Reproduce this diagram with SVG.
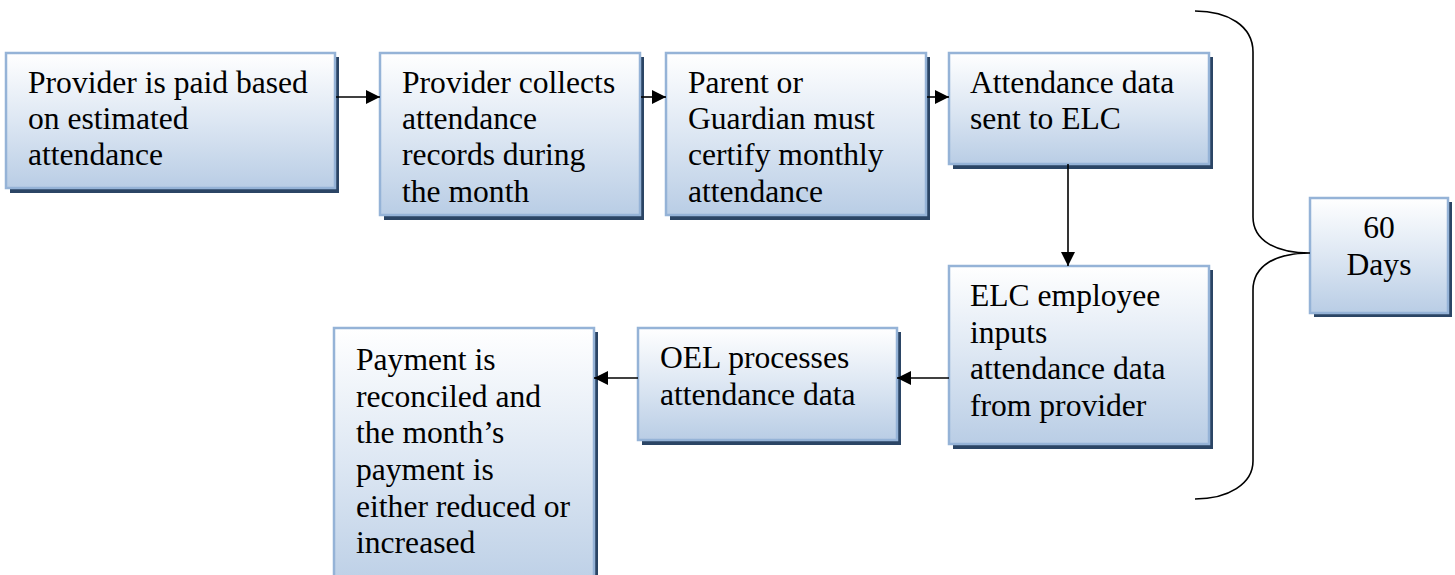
<svg xmlns="http://www.w3.org/2000/svg" width="1455" height="575" viewBox="0 0 1455 575">
<style>
.box{fill:url(#g);stroke:#95B3D7;stroke-width:2.5}
.sh{fill:#2B4565}
.c{stroke:#000;stroke-width:1.6;fill:none}
</style>
<linearGradient id="g" x1="0" y1="0" x2="0" y2="1">
<stop offset="0" stop-color="#FFFFFF"/>
<stop offset="0.5" stop-color="#DDE7F3"/>
<stop offset="1" stop-color="#B9CDE5"/>
</linearGradient>
<marker id="a" markerUnits="userSpaceOnUse" markerWidth="15" markerHeight="15" refX="14" refY="7" orient="auto">
<path d="M0,0 L14,7 L0,14 z" fill="#000"/>
</marker>
<rect width="1455" height="575" fill="#fff"/>
<g id="n1">
<rect class="sh" x="10" y="57" width="329" height="136"/>
<rect class="box" x="6" y="53" width="329" height="135"/>
<text x="28" y="93" style="font-family:'Liberation Serif',serif;font-size:31.6px">Provider is paid based</text>
<text x="28" y="129" style="font-family:'Liberation Serif',serif;font-size:31.6px">on estimated</text>
<text x="28" y="165" style="font-family:'Liberation Serif',serif;font-size:31.6px">attendance</text>
</g>
<g id="n2">
<rect class="sh" x="384" y="57" width="260" height="163"/>
<rect class="box" x="380" y="53" width="260" height="162"/>
<text x="402" y="93" style="font-family:'Liberation Serif',serif;font-size:31.6px">Provider collects</text>
<text x="402" y="129" style="font-family:'Liberation Serif',serif;font-size:31.6px">attendance</text>
<text x="402" y="165" style="font-family:'Liberation Serif',serif;font-size:31.6px">records during</text>
<text x="402" y="202" style="font-family:'Liberation Serif',serif;font-size:31.6px">the month</text>
</g>
<g id="n3">
<rect class="sh" x="670" y="57" width="260" height="163"/>
<rect class="box" x="666" y="53" width="260" height="162"/>
<text x="688" y="93" style="font-family:'Liberation Serif',serif;font-size:31.6px">Parent or</text>
<text x="688" y="129" style="font-family:'Liberation Serif',serif;font-size:31.6px">Guardian must</text>
<text x="688" y="165" style="font-family:'Liberation Serif',serif;font-size:31.6px">certify monthly</text>
<text x="688" y="202" style="font-family:'Liberation Serif',serif;font-size:31.6px">attendance</text>
</g>
<g id="n4">
<rect class="sh" x="953" y="57" width="260" height="112"/>
<rect class="box" x="949" y="53" width="260" height="111"/>
<text x="970" y="93" style="font-family:'Liberation Serif',serif;font-size:31.6px">Attendance data</text>
<text x="970" y="129" style="font-family:'Liberation Serif',serif;font-size:31.6px">sent to ELC</text>
</g>
<g id="n5">
<rect class="sh" x="953" y="270" width="260" height="179"/>
<rect class="box" x="949" y="266" width="260" height="178"/>
<text x="970" y="306" style="font-family:'Liberation Serif',serif;font-size:31.6px">ELC employee</text>
<text x="970" y="343" style="font-family:'Liberation Serif',serif;font-size:31.6px">inputs</text>
<text x="970" y="379" style="font-family:'Liberation Serif',serif;font-size:31.6px">attendance data</text>
<text x="970" y="416" style="font-family:'Liberation Serif',serif;font-size:31.6px">from provider</text>
</g>
<g id="n6">
<rect class="sh" x="642" y="332" width="259" height="113"/>
<rect class="box" x="638" y="328" width="259" height="112"/>
<text x="660" y="368" style="font-family:'Liberation Serif',serif;font-size:31.6px">OEL processes</text>
<text x="660" y="405" style="font-family:'Liberation Serif',serif;font-size:31.6px">attendance data</text>
</g>
<g id="n7">
<rect class="sh" x="338" y="332" width="260" height="270"/>
<rect class="box" x="334" y="328" width="260" height="270"/>
<text x="356" y="370" style="font-family:'Liberation Serif',serif;font-size:31.6px">Payment is</text>
<text x="356" y="407" style="font-family:'Liberation Serif',serif;font-size:31.6px">reconciled and</text>
<text x="356" y="443" style="font-family:'Liberation Serif',serif;font-size:31.6px">the month’s</text>
<text x="356" y="480" style="font-family:'Liberation Serif',serif;font-size:31.6px">payment is</text>
<text x="356" y="517" style="font-family:'Liberation Serif',serif;font-size:31.6px">either reduced or</text>
<text x="356" y="553" style="font-family:'Liberation Serif',serif;font-size:31.6px">increased</text>
</g>
<g id="n8">
<rect class="sh" x="1314" y="202" width="138" height="115"/>
<rect class="box" x="1310" y="198" width="138" height="115"/>
<text x="1379" y="238" text-anchor="middle" style="font-family:'Liberation Serif',serif;font-size:31.6px">60</text>
<text x="1379" y="275" text-anchor="middle" style="font-family:'Liberation Serif',serif;font-size:31.6px">Days</text>
</g>
<g id="connectors">
<line class="c" x1="336" y1="97" x2="380" y2="97" marker-end="url(#a)"/>
<line class="c" x1="641" y1="97" x2="666" y2="97" marker-end="url(#a)"/>
<line class="c" x1="927" y1="97" x2="949" y2="97" marker-end="url(#a)"/>
<line class="c" x1="1068" y1="164" x2="1068" y2="266" marker-end="url(#a)"/>
<line class="c" x1="949" y1="378" x2="897" y2="378" marker-end="url(#a)"/>
<line class="c" x1="638" y1="378" x2="594" y2="378" marker-end="url(#a)"/>
<path class="c" d="M1195,11 C1228,11 1253,26 1253,52 V217 C1253,240 1275,253 1310,253 C1275,253 1253,266 1253,290 V461 C1253,484 1228,499 1195,499"/>
</g>
</svg>
